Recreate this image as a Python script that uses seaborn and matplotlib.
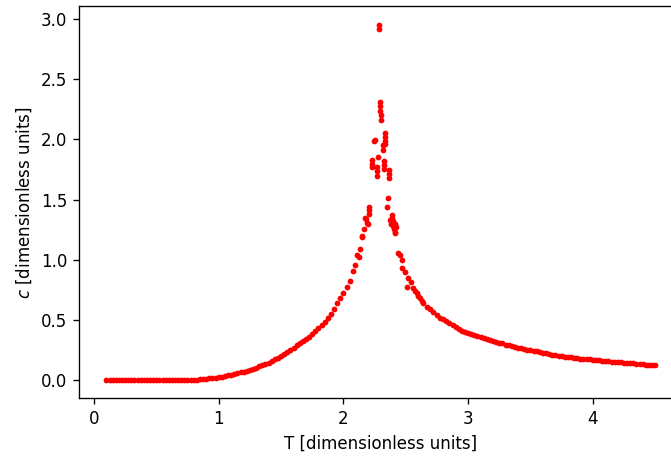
"""Specific heat of the 2D Ising model versus temperature"""

import matplotlib

matplotlib.use("Agg")
import matplotlib.pyplot as plt
import numpy as np
import pandas as pd
import seaborn as sns

# low temperature, c is essentially zero
t_low = [0.100, 0.125, 0.150, 0.175, 0.200, 0.225, 0.250, 0.275, 0.300, 0.325,
         0.350, 0.375, 0.400, 0.425, 0.450, 0.475, 0.500, 0.525, 0.550, 0.575,
         0.600, 0.625, 0.650, 0.675, 0.700, 0.725, 0.750, 0.775, 0.800, 0.825,
         0.850, 0.875, 0.900, 0.925, 0.950, 0.975]
c_low = [0.000, 0.000, 0.000, 0.000, 0.000, 0.000, 0.000, 0.000, 0.000, 0.000,
         0.000, 0.000, 0.000, 0.000, 0.000, 0.000, 0.000, 0.000, 0.000, 0.000,
         0.000, 0.001, 0.001, 0.002, 0.002, 0.003, 0.004, 0.005, 0.006, 0.008,
         0.010, 0.012, 0.015, 0.018, 0.021, 0.024]

# rising branch below Tc
t_rise = [1.000, 1.025, 1.050, 1.075, 1.100, 1.125, 1.150, 1.175, 1.200, 1.225,
          1.250, 1.275, 1.300, 1.325, 1.350, 1.375, 1.400, 1.425, 1.450, 1.475,
          1.500, 1.525, 1.550, 1.575, 1.600, 1.625, 1.650, 1.675, 1.700, 1.725,
          1.750, 1.775, 1.800, 1.825, 1.850, 1.875, 1.900, 1.925, 1.950, 1.975,
          2.000, 2.025, 2.050, 2.075, 2.093, 2.112, 2.123, 2.133, 2.147, 2.152,
          2.165, 2.176, 2.181, 2.190, 2.195, 2.208, 2.208, 2.208]
c_rise = [0.028, 0.032, 0.037, 0.042, 0.048, 0.054, 0.060, 0.067, 0.074, 0.081,
          0.089, 0.097, 0.106, 0.116, 0.126, 0.137, 0.149, 0.161, 0.174, 0.188,
          0.203, 0.219, 0.236, 0.254, 0.273, 0.291, 0.309, 0.324, 0.343, 0.364,
          0.386, 0.408, 0.434, 0.460, 0.484, 0.515, 0.548, 0.596, 0.640, 0.686,
          0.728, 0.772, 0.826, 0.905, 0.959, 1.041, 1.022, 1.089, 1.193, 1.199,
          1.257, 1.346, 1.338, 1.304, 1.296, 1.415, 1.440, 1.380]

# noisy points around the critical temperature
t_peak = [2.227, 2.227, 2.227, 2.245, 2.252, 2.267, 2.267, 2.267, 2.278, 2.288,
          2.288, 2.296, 2.296, 2.296, 2.303, 2.303, 2.318, 2.318, 2.326, 2.326,
          2.326, 2.336, 2.336, 2.336, 2.336, 2.347, 2.358, 2.368, 2.368, 2.368,
          2.375, 2.382, 2.387, 2.390, 2.395, 2.400, 2.405, 2.410, 2.414, 2.416,
          2.420]
c_peak = [1.830, 1.800, 1.770, 1.990, 1.995, 1.770, 1.735, 1.700, 1.852, 2.920,
          2.950, 2.310, 2.275, 2.240, 2.200, 2.160, 1.950, 1.910, 1.820, 1.790,
          1.755, 2.050, 2.020, 1.990, 1.960, 1.437, 1.517, 1.750, 1.715, 1.680,
          1.330, 1.300, 1.373, 1.350, 1.280, 1.320, 1.260, 1.300, 1.235, 1.227,
          1.270]

# falling branch above Tc
t_fall = [2.441, 2.450, 2.467, 2.467, 2.494, 2.507, 2.520, 2.540, 2.561, 2.575,
          2.588, 2.600, 2.614, 2.627, 2.641, 2.667, 2.694, 2.720, 2.748, 2.775,
          2.800, 2.825, 2.850, 2.875, 2.900, 2.925, 2.950, 2.975, 3.000, 3.025,
          3.050, 3.075, 3.100, 3.125, 3.150, 3.175, 3.200, 3.225, 3.250, 3.275,
          3.300, 3.325, 3.350, 3.375, 3.400, 3.425, 3.450, 3.475, 3.500, 3.525,
          3.550, 3.575, 3.600, 3.625, 3.650, 3.675, 3.700, 3.725, 3.750, 3.775,
          3.800, 3.825, 3.850, 3.875, 3.900, 3.925, 3.950, 3.975, 4.000, 4.025,
          4.050, 4.075, 4.100, 4.125, 4.150, 4.175, 4.200, 4.225, 4.250, 4.275,
          4.300, 4.325, 4.350, 4.375, 4.400, 4.425, 4.450, 4.475, 4.500]
c_fall = [1.056, 1.040, 1.000, 0.931, 0.903, 0.779, 0.848, 0.820, 0.765, 0.745,
          0.724, 0.700, 0.682, 0.660, 0.641, 0.612, 0.591, 0.566, 0.544, 0.522,
          0.506, 0.490, 0.474, 0.458, 0.440, 0.428, 0.414, 0.401, 0.392, 0.383,
          0.375, 0.366, 0.358, 0.350, 0.343, 0.336, 0.329, 0.322, 0.314, 0.307,
          0.298, 0.292, 0.285, 0.279, 0.273, 0.267, 0.262, 0.256, 0.251, 0.246,
          0.241, 0.237, 0.232, 0.227, 0.220, 0.213, 0.209, 0.205, 0.201, 0.198,
          0.194, 0.191, 0.188, 0.185, 0.182, 0.179, 0.176, 0.174, 0.171, 0.169,
          0.166, 0.164, 0.162, 0.159, 0.157, 0.155, 0.152, 0.150, 0.148, 0.146,
          0.143, 0.141, 0.139, 0.137, 0.134, 0.132, 0.130, 0.128, 0.126]

df = pd.DataFrame(
    {
        "T": np.concatenate([t_low, t_rise, t_peak, t_fall]),
        "c": np.concatenate([c_low, c_rise, c_peak, c_fall]),
    }
)

dpi = 120
fig = plt.figure(figsize=(671 / dpi, 457 / dpi), dpi=dpi)
# the original image is cut off on the right, so the axes run past the edge
ax = fig.add_axes([79 / 671, 58.7 / 457, 603.6 / 671, 392 / 457])
sns.scatterplot(data=df, x="T", y="c", color="red", s=12, linewidth=0, marker="o", ax=ax)
ax.set(
    xlim=(-0.12, 4.72),
    ylim=(-0.148, 3.105),
    xlabel="T [dimensionless units]",
    ylabel="$c$ [dimensionless units]",
)
ax.set_xticks([0, 1, 2, 3, 4])
ax.set_yticks([0.0, 0.5, 1.0, 1.5, 2.0, 2.5, 3.0])
fig.savefig("out.png", dpi=dpi)
plt.close(fig)
